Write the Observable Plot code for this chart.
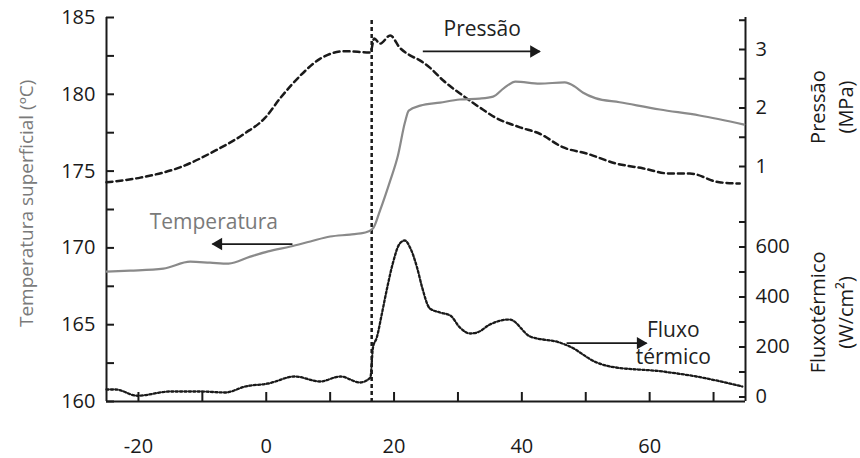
<!DOCTYPE html>
<html><head><meta charset="utf-8">
<script src="https://cdn.jsdelivr.net/npm/d3@7"></script>
<script src="https://cdn.jsdelivr.net/npm/@observablehq/plot@0.6"></script>
<style>body{margin:0;background:#fff;} #chart svg{display:block;}</style>
</head><body><div id="chart"></div>
<script>
// ---- data (time in s) ----
const tempTime  = [-25,-21.3,-16.1,-11.9,-8.8,-5.9,-2.5,0.3,3.8,6.9,10,13.1,15.5,16.7,17.8,19.4,20.6,21.7,22.3,24.1,27.2,30.3,33.4,35.5,37.2,39,42.8,46.7,48.3,49.6,51.5,55.3,61.6,67.8,74.8];
const tempValue = [168.46,168.52,168.65,169.1,169.04,168.98,169.43,169.77,170.09,170.42,170.74,170.87,171.0,171.26,172.43,174.38,176.0,178.16,178.94,179.26,179.46,179.66,179.72,179.85,180.4,180.83,180.7,180.77,180.5,180.1,179.75,179.48,179.01,178.62,178.03];

const pressTime  = [-25,-19.7,-13.4,-8,-3.3,-0.2,2.2,5.3,8.4,12.3,16.3,16.9,17.8,19.4,20.9,22.5,24.1,25.6,27.7,30.8,33.4,35.8,39.7,42.8,46.4,50.2,54.8,58.9,63.1,66.3,70.9,74.1];
const pressValue = [0.73,0.81,0.99,1.27,1.57,1.83,2.17,2.55,2.84,2.97,2.95,3.19,3.10,3.24,3.03,2.90,2.81,2.69,2.47,2.21,2.01,1.84,1.67,1.56,1.33,1.22,1.05,0.97,0.88,0.88,0.73,0.71];

const fluxTime  = [-25,-23.6,-20.2,-15,-10.3,-6.4,-3.3,0.3,4.5,8.4,11.6,14.7,16.3,16.7,17.3,18.1,18.9,19.8,20.9,21.7,22.5,23.6,24.4,25.6,27.2,28.8,30.3,31.9,33,35,38.1,41.3,45.9,47.5,51.7,53.8,62,67.3,74.5];
const fluxValue = [30,30,5,22,22,18,42,54,82,62,82,58,78,198,238,334,434,534,614,626,598,518,438,354,338,326,278,254,258,290,310,242,218,202,138,122,102,82,42];

const eventTime = 16.5;

// ---- ticks ----
const xTickLabels = [-20,0,20,40,60];
const xTicks = [-20,-10,0,10,20,30,40,50,60,70];
const tempTickLabels = [160,165,170,175,180,185];
const tempTicks = [160,162.5,165,167.5,170,172.5,175,177.5,180,182.5,185];
const pressTickLabels = [1,2,3];
const pressTicks = [1,1.5,2,2.5,3,3.5];
const fluxTickLabels = [0,200,400,600];
const fluxTicks = [0,100,200,300,400,500,600,700];

// ---- annotations ----
const notes = [
  {text:"Pressão", x:33.8, y:184.35, fill:"#222"},
  {text:"Temperatura", x:-8.2, y:171.8, fill:"#7a7a7a"},
  {text:"Fluxo\ntérmico", x:63.7, y:163.9, fill:"#222"}
];
const arrows = [
  {x1:24.5, x2:42.8, y:182.79, dir:1},
  {x1:4.1, x2:-8.4, y:170.25, dir:-1},
  {x1:47.0, x2:59.5, y:163.8, dir:1}
];

// secondary scales mapped onto the temperature axis
const pToT = p => 171.49 + 3.809 * p;
const tToP = t => (t - 171.49) / 3.809;
const fToT = f => 160.293 + 0.016276 * f;
const tToF = t => (t - 160.293) / 0.016276;

const temp = tempTime.map((t,i) => ({t, v: tempValue[i]}));
const press = pressTime.map((t,i) => ({t, v: pToT(pressValue[i])}));
const flux = fluxTime.map((t,i) => ({t, v: fToT(fluxValue[i])}));

const axisColor = "#1a1a1a";
const FS = 20;

const chart = Plot.plot({
  width: 860, height: 458,
  marginLeft: 106, marginRight: 115, marginTop: 17, marginBottom: 57,
  style: {fontFamily: "'Open Sans', sans-serif", fontSize: FS + "px", background: "#fff", color: axisColor},
  x: {domain: [-25, 75]},
  y: {domain: [160, 185]},
  marks: [
    Plot.ruleX([-25, 75], {stroke: axisColor, strokeWidth: 2}),
    Plot.ruleY([160], {stroke: axisColor, strokeWidth: 2}),
    Plot.axisY(tempTicks, {anchor: "left", tickSize: -8, tickFormat: () => "", strokeWidth: 2, stroke: axisColor, label: null}),
    Plot.axisY(tempTickLabels, {anchor: "left", tickSize: 0, tickPadding: 11, fontSize: FS, fill: axisColor, label: null}),
    Plot.axisX(xTicks, {anchor: "bottom", tickSize: -9, tickFormat: () => "", strokeWidth: 2, stroke: axisColor, label: null}),
    Plot.axisX(xTickLabels, {anchor: "bottom", tickSize: 0, tickPadding: 37, fontSize: FS, fill: axisColor, label: null, tickFormat: d => String(d)}),
    Plot.axisY(pressTicks.map(pToT), {anchor: "right", tickSize: -7, tickFormat: () => "", strokeWidth: 2, stroke: axisColor, label: null}),
    Plot.axisY(pressTickLabels.map(pToT), {anchor: "right", tickSize: 0, tickPadding: 10, fontSize: FS, fill: axisColor, label: null, tickFormat: d => String(Math.round(tToP(d)))}),
    Plot.axisY(fluxTicks.map(fToT), {anchor: "right", tickSize: -7, tickFormat: () => "", strokeWidth: 2, stroke: axisColor, label: null}),
    Plot.axisY(fluxTickLabels.map(fToT), {anchor: "right", tickSize: 0, tickPadding: 10, fontSize: FS, fill: axisColor, label: null, tickFormat: d => String(Math.round(tToF(d) / 100) * 100)}),
    // axis titles
    Plot.text(["Temperatura superficial (ºC)"], {frameAnchor: "left", y: [172.9], dx: -80, rotate: -90, textAnchor: "middle", fill: "#7a7a7a", fontSize: 19, text: d => d}),
    Plot.text(["Pressão\n(MPa)"], {frameAnchor: "right", y: [179.17], dx: 85, rotate: -90, textAnchor: "middle", fill: axisColor, fontSize: FS, lineHeight: 1.4, text: d => d}),
    Plot.text(["Fluxotérmico\n(W/cm²)"], {frameAnchor: "right", y: [165.8], dx: 85, rotate: -90, textAnchor: "middle", fill: axisColor, fontSize: FS, lineHeight: 1.4, text: d => d}),
    // event line
    Plot.ruleX([eventTime], {stroke: "#1a1a1a", strokeWidth: 2.5, strokeDasharray: "4,3", insetTop: 3, insetBottom: -4}),
    // series
    Plot.line(flux, {x: "t", y: "v", stroke: "#1a1a1a", strokeWidth: 2.3, strokeDasharray: "2.2,2.2", curve: "monotone-x"}),
    Plot.line(press, {x: "t", y: "v", stroke: "#1a1a1a", strokeWidth: 2.5, strokeDasharray: "6,4", curve: "monotone-x"}),
    Plot.line(temp, {x: "t", y: "v", stroke: "#8a8a8a", strokeWidth: 2.2, curve: "monotone-x"}),
    // annotations
    Plot.link(arrows, {x1: "x1", x2: "x2", y1: "y", y2: "y", stroke: "#1a1a1a", strokeWidth: 1.8}),
    Plot.dot(arrows.filter(d => d.dir > 0), {x: "x2", y: "y", symbol: "triangle", r: 4.6, fill: "#1a1a1a", stroke: null, rotate: 90, dx: -6}),
    Plot.dot(arrows.filter(d => d.dir < 0), {x: "x2", y: "y", symbol: "triangle", r: 4.6, fill: "#1a1a1a", stroke: null, rotate: -90, dx: 6}),
    Plot.text(notes, {x: "x", y: "y", text: "text", textAnchor: "middle", fill: "fill", fontSize: 21, lineHeight: 1.3})
  ]
});
document.getElementById("chart").appendChild(chart);
</script>
</body></html>
